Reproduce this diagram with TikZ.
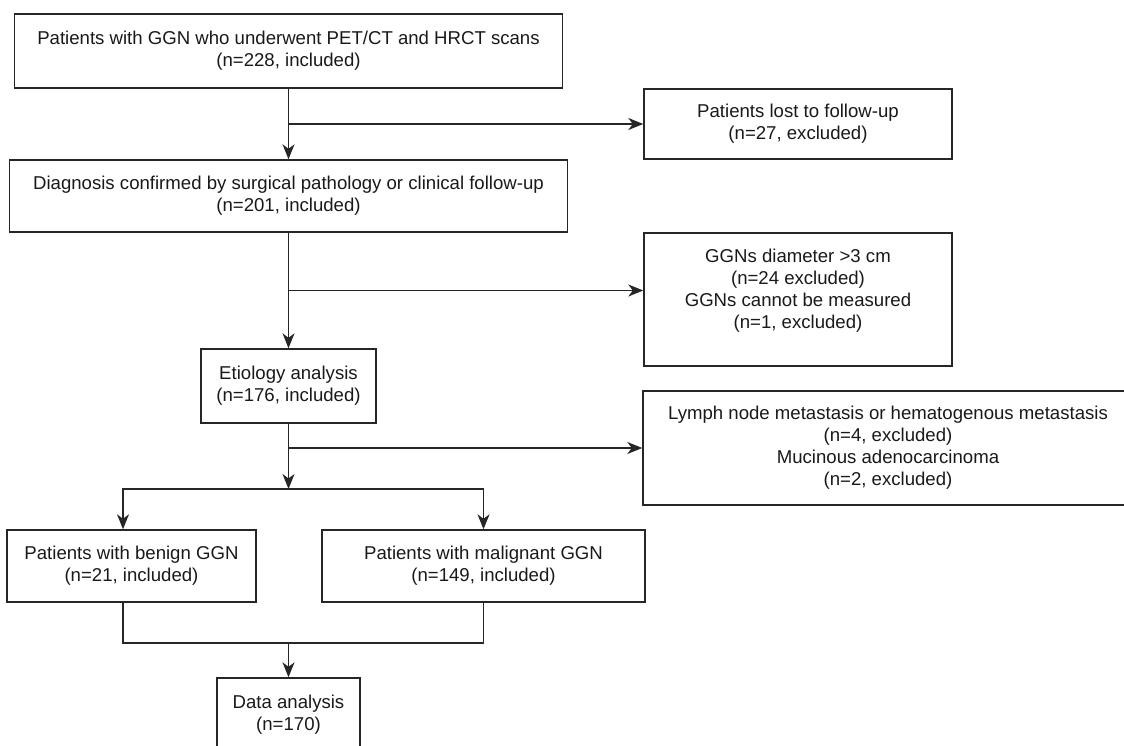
\documentclass[tikz,border=0pt]{standalone}
\usepackage{fontspec}
\setmainfont{Liberation Sans}
\usetikzlibrary{calc}
\usetikzlibrary{positioning}
\usetikzlibrary{arrows.meta}

\begin{document}
\begin{tikzpicture}[
  x=1pt, y=-1pt,
  txt/.style={align=center, font=\fontsize{18.6}{22}\selectfont, text=black!90},
  box/.style={txt, draw=black!85, line width=1.4pt, rectangle, inner sep=0pt},
  conn/.style={draw=black!85, line width=1.4pt},
  arr/.style={conn, -{Stealth[length=15pt, width=12pt, inset=4.5pt]}},
]

\useasboundingbox (0,0) rectangle (1124,746);
\clip (0,0) rectangle (1124,746);

\node (start) [box, minimum width=548pt, minimum height=74pt] at (288.5,51)
  {Patients with GGN who underwent PET/CT and HRCT scans\\(n=228, included)};
\node (diag) [box, minimum width=558pt, minimum height=72pt] at (288.5,196)
  {Diagnosis confirmed by surgical pathology or clinical follow-up\\(n=201, included)};
\node (etio) [box, minimum width=175pt, minimum height=74pt] at (288.5,386)
  {Etiology analysis\\(n=176, included)};
\node (benign) [box, minimum width=249pt, minimum height=72pt] at (131.5,566)
  {Patients with benign GGN\\(n=21, included)};
\node (malig) [box, minimum width=323pt, minimum height=72pt] at (483.5,566)
  {Patients with malignant GGN\\(n=149, included)};
\node (data) [box, minimum width=143pt, minimum height=74pt] at (288.5,715)
  {Data analysis\\(n=170)};

\node (excl1) [box, minimum width=308pt, minimum height=70pt] at (798,124)
  {Patients lost to follow-up\\(n=27, excluded)};
\node (excl2) [box, minimum width=308pt, minimum height=133pt,
  label={[txt, yshift=8.5pt]center:{GGNs diameter >3 cm\\(n=24 excluded)\\GGNs cannot be measured\\(n=1, excluded)}}]
  at (798,299.5) {};
\node (excl3) [box, minimum width=490pt, minimum height=114pt] at (888,448)
  {Lymph node metastasis or hematogenous metastasis\\(n=4, excluded)\\Mucinous adenocarcinoma\\(n=2, excluded)};

\draw[arr] (start.south) -- (diag.north);
\draw[arr] (start.south |- excl1.west) -- (excl1.west);

\coordinate (b2) at ($(diag.south)!0.5!(etio.north)$);
\draw[arr] (diag.south) -- (etio.north);
\draw[arr] (b2) -- (b2 -| excl2.west);

\coordinate (split) at (288.5,489);
\draw[arr] (etio.south) -- (split);
\draw[arr] (etio.south |- excl3.west) -- (excl3.west);
\draw[arr] (split) -| ([xshift=-8.5pt]benign.north);
\draw[arr] (split) -| (malig.north);

\coordinate (join) at (288.5,643);
\draw[conn] ([xshift=-8.5pt]benign.south) |- (join) -| (malig.south);
\draw[arr] (join) -- (data.north);
\end{tikzpicture}
\end{document}
